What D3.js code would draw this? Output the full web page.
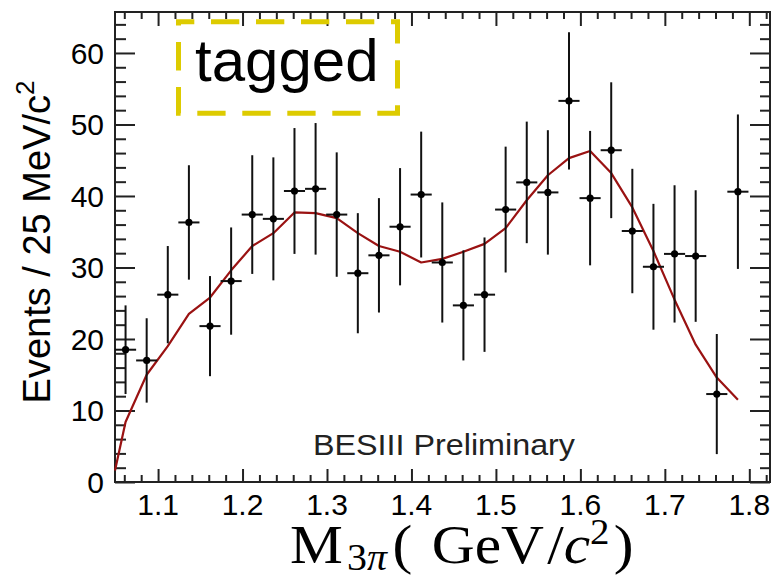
<!DOCTYPE html>
<html>
<head>
<meta charset="utf-8">
<script src="https://cdn.jsdelivr.net/npm/d3@7"></script>
<style>
  html, body { margin: 0; padding: 0; background: #fff; }
  svg { display: block; }
</style>
</head>
<body>
<svg id="chart" width="774" height="578"></svg>
<script>
// M(3pi) invariant-mass spectrum, 25 MeV bins, with fitted curve
const massCenters = [1.0615, 1.0865, 1.1115, 1.1365, 1.1615, 1.1865, 1.2115, 1.2365, 1.2615, 1.2865,
                     1.3115, 1.3365, 1.3615, 1.3865, 1.4115, 1.4365, 1.4615, 1.4865, 1.5115, 1.5365,
                     1.5615, 1.5865, 1.6115, 1.6365, 1.6615, 1.6865, 1.7115, 1.7365, 1.7615, 1.7865];
const events = [18.5, 17.0, 26.2, 36.3, 21.8, 28.1, 37.4, 36.8, 40.7, 41.0,
                37.4, 29.2, 31.7, 35.7, 40.2, 30.7, 24.7, 26.2, 38.1, 41.9,
                40.5, 53.3, 39.7, 46.4, 35.1, 30.1, 31.9, 31.6, 12.3, 40.6];
const eventErrors = [6.2, 5.9, 6.8, 8.0, 7.0, 7.5, 8.3, 8.6, 8.8, 9.2,
                     8.7, 8.4, 8.0, 8.2, 8.8, 8.4, 7.7, 8.0, 8.8, 8.5,
                     8.7, 9.6, 9.4, 9.5, 8.7, 8.8, 9.6, 9.2, 8.4, 10.8];
const binHalfWidth = 0.0125;

// fitted curve sampled at the lower edge and at each bin centre
const fitMass = [1.049].concat(massCenters);
const fitValues = [1.6, 8.4, 15.0, 19.0, 23.5, 25.8, 29.6, 33.0, 34.8, 37.7, 37.6,
                   36.9, 34.8, 33.0, 32.2, 30.7, 31.2, 32.2, 33.3, 35.5, 39.4,
                   42.9, 45.3, 46.3, 43.2, 38.4, 32.3, 25.5, 19.2, 14.6, 11.5];

const xMajorTicks = [1.1, 1.2, 1.3, 1.4, 1.5, 1.6, 1.7, 1.8];
const xTickLabels = ["1.1", "1.2", "1.3", "1.4", "1.5", "1.6", "1.7", "1.8"];
const yMajorTicks = [0, 10, 20, 30, 40, 50, 60];
const yTickLabels = ["0", "10", "20", "30", "40", "50", "60"];

const xDomain = [1.049, 1.8245];
const yDomain = [0, 65.73];

const svg = d3.select("#chart");
const plotLeft = 115, plotRight = 770, plotTop = 12, plotBottom = 482;

const x = d3.scaleLinear().domain(xDomain).range([plotLeft, plotRight]);
const y = d3.scaleLinear().domain(yDomain).range([plotBottom, plotTop]);

const frameColor = "#222";
const sans = "'Liberation Sans', Arial, Helvetica, sans-serif";
const serif = "'Liberation Serif', 'Times New Roman', serif";

// minor tick values
const xMinor = d3.range(53, 92).map(k => k * 0.02).filter(v => v > xDomain[0] && v < xDomain[1] && !xMajorTicks.some(m => Math.abs(m - v) < 1e-6));
const yMinor = d3.range(0, 33).map(k => k * 2).filter(v => v < yDomain[1] && v % 10 !== 0);

function styleAxis(g) {
  g.select(".domain").remove();
  g.selectAll("line").attr("stroke", frameColor).attr("stroke-width", 2);
}

// bottom axis (ticks point inward)
svg.append("g").attr("transform", `translate(0,${plotBottom})`)
  .call(d3.axisBottom(x).tickValues(xMajorTicks).tickSize(-13).tickFormat(""))
  .call(styleAxis);
svg.append("g").attr("transform", `translate(0,${plotBottom})`)
  .call(d3.axisBottom(x).tickValues(xMinor).tickSize(-7).tickFormat(""))
  .call(styleAxis);
// top axis
svg.append("g").attr("transform", `translate(0,${plotTop})`)
  .call(d3.axisTop(x).tickValues(xMajorTicks).tickSize(-14).tickFormat(""))
  .call(styleAxis);
svg.append("g").attr("transform", `translate(0,${plotTop})`)
  .call(d3.axisTop(x).tickValues(xMinor).tickSize(-7).tickFormat(""))
  .call(styleAxis);
// left axis
svg.append("g").attr("transform", `translate(${plotLeft},0)`)
  .call(d3.axisLeft(y).tickValues(yMajorTicks).tickSize(-20).tickFormat(""))
  .call(styleAxis);
svg.append("g").attr("transform", `translate(${plotLeft},0)`)
  .call(d3.axisLeft(y).tickValues(yMinor).tickSize(-11).tickFormat(""))
  .call(styleAxis);
// right axis
svg.append("g").attr("transform", `translate(${plotRight},0)`)
  .call(d3.axisRight(y).tickValues(yMajorTicks).tickSize(-20).tickFormat(""))
  .call(styleAxis);
svg.append("g").attr("transform", `translate(${plotRight},0)`)
  .call(d3.axisRight(y).tickValues(yMinor).tickSize(-10).tickFormat(""))
  .call(styleAxis);

// frame
svg.append("rect")
  .attr("x", plotLeft).attr("y", plotTop)
  .attr("width", plotRight - plotLeft).attr("height", plotBottom - plotTop)
  .attr("fill", "none").attr("stroke", frameColor).attr("stroke-width", 2);

// tick labels
svg.append("g").selectAll("text").data(xMajorTicks).join("text")
  .attr("x", d => x(d)).attr("y", 515)
  .attr("text-anchor", "middle")
  .attr("font-family", sans).attr("font-size", 30).attr("fill", "#000")
  .text((d, i) => xTickLabels[i]);
svg.append("g").selectAll("text").data(yMajorTicks).join("text")
  .attr("x", 104).attr("y", d => y(d) + 11)
  .attr("text-anchor", "end")
  .attr("font-family", sans).attr("font-size", 30).attr("fill", "#000")
  .text((d, i) => yTickLabels[i]);

// y-axis title
const yTitle = svg.append("text")
  .attr("transform", "translate(50,242) rotate(-90)")
  .attr("text-anchor", "middle")
  .attr("font-family", sans).attr("font-size", 38).attr("fill", "#000");
yTitle.append("tspan").text("Events / 25 MeV/c");
yTitle.append("tspan").attr("font-size", 26).attr("dy", -16).text("2");

// x-axis title: M_{3π}( GeV/c²), slightly widened
const xTitle = svg.append("g")
  .attr("transform", "translate(290,563) scale(1.08,1)")
  .append("text")
  .attr("x", 0).attr("y", 0)
  .attr("font-family", serif).attr("font-size", 55).attr("fill", "#000");
xTitle.append("tspan").text("M");
xTitle.append("tspan").attr("font-size", 37).attr("dy", 7).attr("dx", 4).text("3");
xTitle.append("tspan").attr("font-size", 37).attr("font-style", "italic").text("π");
xTitle.append("tspan").attr("dy", -7).attr("dx", 5).text("(");
xTitle.append("tspan").attr("dx", 18).text("GeV");
xTitle.append("tspan").attr("dx", 3).text("/");
xTitle.append("tspan").attr("font-style", "italic").text("c");
xTitle.append("tspan").attr("font-size", 36).attr("dy", -19).text("2");
xTitle.append("tspan").attr("dy", 19).attr("dx", 4).text(")");

// fitted curve
const line = d3.line().x((d, i) => x(fitMass[i])).y(d => y(d));
svg.append("path")
  .datum(fitValues)
  .attr("d", line)
  .attr("fill", "none")
  .attr("stroke", "#9a1212")
  .attr("stroke-width", 2.2)
  .attr("stroke-linejoin", "round");

// data points with error bars
const pts = svg.append("g").selectAll("g").data(events).join("g");
pts.append("line")
  .attr("x1", (d, i) => x(massCenters[i])).attr("x2", (d, i) => x(massCenters[i]))
  .attr("y1", (d, i) => y(d - eventErrors[i])).attr("y2", (d, i) => y(d + eventErrors[i]))
  .attr("stroke", "#111").attr("stroke-width", 2);
pts.append("line")
  .attr("x1", (d, i) => x(massCenters[i] - binHalfWidth)).attr("x2", (d, i) => x(massCenters[i] + binHalfWidth))
  .attr("y1", d => y(d)).attr("y2", d => y(d))
  .attr("stroke", "#111").attr("stroke-width", 2);
pts.append("circle")
  .attr("cx", (d, i) => x(massCenters[i])).attr("cy", d => y(d))
  .attr("r", 3.6).attr("fill", "#000");

// "tagged" label in a dashed yellow box
svg.append("rect")
  .attr("x", 178.5).attr("y", 21.7).attr("width", 219).attr("height", 91.6)
  .attr("fill", "none").attr("stroke", "#ddcb00").attr("stroke-width", 5)
  .attr("stroke-dasharray", "28.3,16.7").attr("stroke-dashoffset", 12.5);
svg.append("text")
  .attr("x", 195).attr("y", 81)
  .attr("font-family", sans).attr("font-size", 60).attr("fill", "#000")
  .text("tagged");

// collaboration tag
svg.append("text")
  .attr("x", 313).attr("y", 455)
  .attr("font-family", sans).attr("font-size", 29).attr("fill", "#222")
  .attr("textLength", 262).attr("lengthAdjust", "spacingAndGlyphs")
  .text("BESIII Preliminary");
</script>
</body>
</html>
